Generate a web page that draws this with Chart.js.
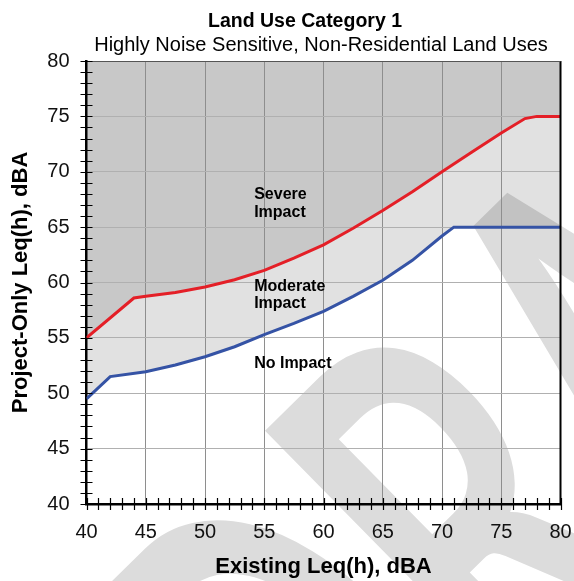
<!DOCTYPE html>
<html><head><meta charset="utf-8">
<script src="https://cdn.jsdelivr.net/npm/chart.js@4/dist/chart.umd.min.js"></script>
<style>html,body{margin:0;padding:0;background:#fff;}#wrap{width:574px;height:581px;position:relative;}canvas{display:block;}</style>
</head><body><div id="wrap"><canvas id="c" width="574" height="581" style="width:574px;height:581px"></canvas></div>
<script>
// ---- data ----
const severeX   = [40, 44, 45, 47.5, 50, 52.5, 55, 57.5, 60, 62.5, 65, 67.5, 70, 72.5, 75, 77, 78, 80];
const severeY   = [55, 58.6, 58.75, 59.1, 59.6, 60.25, 61.1, 62.2, 63.4, 64.9, 66.5, 68.2, 70.0, 71.75, 73.5, 74.8, 75, 75];
const moderateX = [40, 42, 45, 47.5, 50, 52.5, 55, 57.5, 60, 62.5, 65, 67.5, 70, 71, 75, 80];
const moderateY = [49.5, 51.5, 51.95, 52.55, 53.3, 54.2, 55.3, 56.3, 57.4, 58.75, 60.2, 62.0, 64.2, 65, 65, 65];
const xTickValues = [40, 45, 50, 55, 60, 65, 70, 75, 80];
const yTickValues = [40, 45, 50, 55, 60, 65, 70, 75, 80];
const titleText = 'Land Use Category 1';
const subtitleText = 'Highly Noise Sensitive, Non-Residential Land Uses';
const xTitleText = 'Existing Leq(h), dBA';
const yTitleText = 'Project-Only Leq(h), dBA';
const regionNames = [['Severe', 'Impact'], ['Moderate', 'Impact'], ['No Impact']];
const regionX = [54.15, 54.15, 54.15];
const regionY = [67.5, 59.26, 52.25];
const watermarkText = 'DRAFT';

const toPts = (xs, ys) => xs.map((x, i) => ({x, y: ys[i]}));
const FONT = '"Liberation Sans", Arial, sans-serif';

const decor = {
  id: 'decor',
  beforeDraw(chart) {
    // light-grey diagonal watermark, drawn over the fills and under grid / lines
    const ctx = chart.ctx;
    ctx.save();
    ctx.font = 'bold 100px Lato, "Open Sans", sans-serif';
    const wD = ctx.measureText('D').width;
    const mR = ctx.measureText('R');
    const stemX = wD - mR.actualBoundingBoxLeft;
    const capH = mR.actualBoundingBoxAscent;
    const apexX = ctx.measureText('DR').width + ctx.measureText('A').width / 2;
    const sx = 316 / (apexX - stemX);
    const sy = sx * 1.6;
    const th = -44.5 * Math.PI / 180;
    const cs = Math.cos(th), sn = Math.sin(th);
    const lu = sx * stemX, lv = -sy * capH;
    const ox = 266 - (lu * cs - lv * sn);
    const oy = 432 - (lu * sn + lv * cs);
    ctx.globalCompositeOperation = 'multiply';
    ctx.fillStyle = '#dcdcdc';
    ctx.translate(ox, oy);
    ctx.rotate(th);
    ctx.scale(sx, sy);
    ctx.textBaseline = 'alphabetic';
    ctx.fillText(watermarkText, 0, 0);
    ctx.restore();
  },
  afterDraw(chart) {
    const {ctx, chartArea: a, scales: {x, y}} = chart;
    ctx.save();
    ctx.strokeStyle = '#000';
    ctx.lineWidth = 2;
    ctx.beginPath();
    ctx.moveTo(a.right, a.top); ctx.lineTo(a.right, a.bottom);
    ctx.stroke();
    ctx.strokeStyle = '#555';
    ctx.lineWidth = 1;
    ctx.beginPath();
    ctx.moveTo(a.left, a.top + 0.5); ctx.lineTo(a.right, a.top + 0.5);
    ctx.stroke();
    ctx.strokeStyle = '#000';
    ctx.lineWidth = 1.2;
    ctx.beginPath();
    for (let v = x.min; v <= x.max; v += 1) {
      const px = Math.round(x.getPixelForValue(v)) + 0.5;
      ctx.moveTo(px, a.bottom - 6); ctx.lineTo(px, a.bottom + 6);
    }
    for (let v = y.min; v <= y.max; v += 1) {
      const py = Math.round(y.getPixelForValue(v)) + 0.5;
      ctx.moveTo(a.left - 6, py); ctx.lineTo(a.left + 6, py);
    }
    ctx.stroke();
    ctx.fillStyle = '#000';
    ctx.textAlign = 'center';
    ctx.textBaseline = 'alphabetic';
    ctx.font = 'bold 19.5px ' + FONT;
    ctx.fillText(titleText, 305, 26.7);
    ctx.font = '20px ' + FONT;
    ctx.fillText(subtitleText, 321, 50.7);
    ctx.textAlign = 'left';
    ctx.font = 'bold 16px ' + FONT;
    regionNames.forEach((lines, i) => {
      const px = x.getPixelForValue(regionX[i]);
      const py = y.getPixelForValue(regionY[i]);
      lines.forEach((t, j) => ctx.fillText(t, px, py + j * 17.5));
    });
    ctx.restore();
  }
};

new Chart(document.getElementById('c'), {
  type: 'line',
  data: {
    datasets: [
      {
        label: 'Severe Impact threshold',
        data: toPts(severeX, severeY),
        borderColor: '#e41f27',
        borderWidth: 3,
        backgroundColor: '#c8c8c8',
        fill: 'end',
        pointRadius: 0,
        tension: 0
      },
      {
        label: 'Moderate Impact threshold',
        data: toPts(moderateX, moderateY),
        borderColor: '#3553a5',
        borderWidth: 3,
        backgroundColor: '#e1e1e1',
        fill: 'end',
        pointRadius: 0,
        tension: 0
      }
    ]
  },
  options: {
    responsive: false,
    animation: false,
    devicePixelRatio: 1,
    layout: {padding: {left: 0, right: 13.5, top: 61, bottom: 0}},
    plugins: {
      legend: {display: false},
      tooltip: {enabled: false},
      filler: {drawTime: 'beforeDraw'}
    },
    scales: {
      x: {
        type: 'linear', min: 40, max: 80,
        afterBuildTicks: s => { s.ticks = xTickValues.map(v => ({value: v})); },
        afterFit: s => { s.height = 77; s.paddingLeft = 0; s.paddingRight = 0; },
        grid: {color: '#8e8e8e', lineWidth: 1, drawTicks: false},
        border: {display: true, color: '#000', width: 2.5},
        ticks: {color: '#111', padding: 16, autoSkip: false, font: {family: FONT, size: 20}, maxRotation: 0},
        title: {display: true, text: xTitleText, color: '#000', padding: {top: 0, bottom: 1},
                font: {family: FONT, size: 22, weight: 'bold'}}
      },
      y: {
        type: 'linear', min: 40, max: 80,
        afterBuildTicks: s => { s.ticks = yTickValues.map(v => ({value: v})); },
        afterFit: s => { s.width = 86.5; s.paddingTop = 0; s.paddingBottom = 0; },
        grid: {color: '#b0b0b0', lineWidth: 1, drawTicks: false},
        border: {display: true, color: '#000', width: 2.5},
        ticks: {color: '#111', padding: 17, autoSkip: false, font: {family: FONT, size: 20}},
        title: {display: true, text: yTitleText, color: '#000', padding: {top: 8, bottom: 0},
                font: {family: FONT, size: 22, weight: 'bold'}}
      }
    }
  },
  plugins: [decor]
});
</script></body></html>
